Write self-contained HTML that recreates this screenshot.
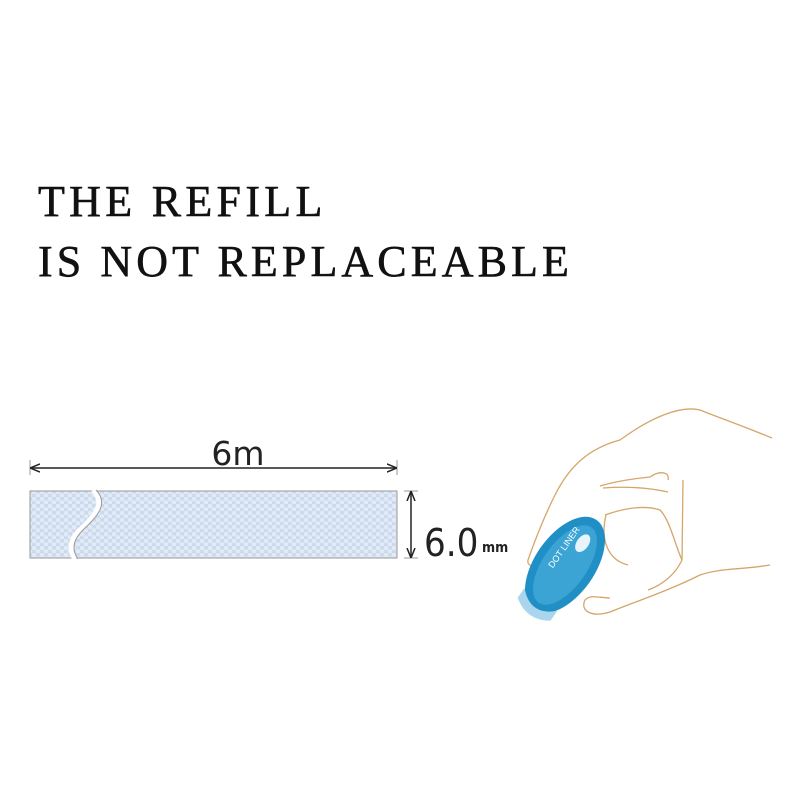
<!DOCTYPE html>
<html><head><style>
body{margin:0;background:#fff;width:800px;height:800px;overflow:hidden;position:relative}
.t{position:absolute;left:38px;font-family:"Liberation Serif",serif;font-size:44px;letter-spacing:4.3px;color:#111;line-height:1;white-space:nowrap;-webkit-text-stroke:0.6px #111}
</style></head><body>
<div class="t" style="top:180px">THE REFILL</div>
<div class="t" style="top:240px;letter-spacing:4.1px">IS NOT REPLACEABLE</div>
<svg width="800" height="800" style="position:absolute;left:0;top:0">
<defs>
<pattern id="hx" width="8" height="7" patternUnits="userSpaceOnUse">
<rect width="8" height="7" fill="#c9d9ee"/>
<circle cx="2" cy="2" r="2.4" fill="#e2eaf6"/><circle cx="6" cy="5.5" r="2.4" fill="#e2eaf6"/>
</pattern>
<marker id="a" markerWidth="10" markerHeight="10" refX="9" refY="5" orient="auto-start-reverse" markerUnits="userSpaceOnUse"><path d="M0,1 L10,5 L0,9" fill="none" stroke="#222" stroke-width="1.5"/></marker>
</defs>
<line x1="30" y1="460" x2="30" y2="475" stroke="#999" stroke-width="1"/>
<line x1="397" y1="460" x2="397" y2="475" stroke="#999" stroke-width="1"/>
<line x1="31" y1="468" x2="396" y2="468" stroke="#222" stroke-width="1.5" marker-start="url(#a)" marker-end="url(#a)"/>
<text x="238" y="465" font-family="DejaVu Sans,sans-serif" font-size="33" text-anchor="middle" fill="#222">6m</text>
<rect x="30" y="491" width="367" height="67" fill="url(#hx)" stroke="#999" stroke-width="1"/>
<path d="M93,490 C108,505 90,520 80,530 C68,542 70,552 75,559" fill="none" stroke="#fff" stroke-width="5"/>
<path d="M93,490 C108,505 90,520 80,530 C68,542 70,552 75,559" fill="none" stroke="#999" stroke-width="1" transform="translate(3,0)"/>
<line x1="404" y1="491" x2="418" y2="491" stroke="#999"/>
<line x1="404" y1="558" x2="418" y2="558" stroke="#999"/>
<line x1="411" y1="492" x2="411" y2="557" stroke="#222" stroke-width="1.5" marker-start="url(#a)" marker-end="url(#a)"/>
<text x="424" y="556" font-family="DejaVu Sans Condensed,DejaVu Sans,sans-serif" font-size="38" fill="#222">6.0</text>
<text x="482" y="552" font-family="DejaVu Sans Condensed,DejaVu Sans,sans-serif" font-size="14" font-weight="bold" fill="#222">mm</text>
<g fill="none" stroke="#d6a56a" stroke-width="1.3">
<path d="M772,438 C740,425 720,418 700,410 C680,405 650,418 620,440 C590,448 570,465 555,495 C545,515 535,540 528,560 C527,565 532,568 540,565"/>
<path d="M600,486 C620,480 640,478 650,477 C660,470 670,472 668,480 M603,488 C630,486 650,488 668,492 M683,480 L682,560 C675,575 662,585 648,590"/>
<path d="M605,515 C625,508 645,505 660,510 C670,520 675,545 682,560"/>
<path d="M606,515 C600,540 608,560 628,565"/>
<path d="M770,565 C740,570 720,568 700,575 C670,590 640,600 610,612 C590,618 580,610 585,600 C590,594 600,598 610,598"/>
</g>
<g transform="translate(565,565) rotate(35)">
<ellipse cx="0" cy="0" rx="30" ry="55" fill="#1f8fc6"/>
<ellipse cx="0" cy="0" rx="22" ry="46" fill="#4fb3e0" opacity="0.6"/>
<ellipse cx="2" cy="-28" rx="6" ry="10" fill="#e8f4fb"/>
<path d="M-20,42 Q0,62 20,42 L20,54 Q0,68 -20,54Z" fill="#a9d6ec"/>
<text x="-8" y="10" transform="rotate(-90 -8 10)" font-family="Liberation Sans,sans-serif" font-size="9" fill="#fff">DOT LINER</text>
</g>
</svg>
</body></html>
